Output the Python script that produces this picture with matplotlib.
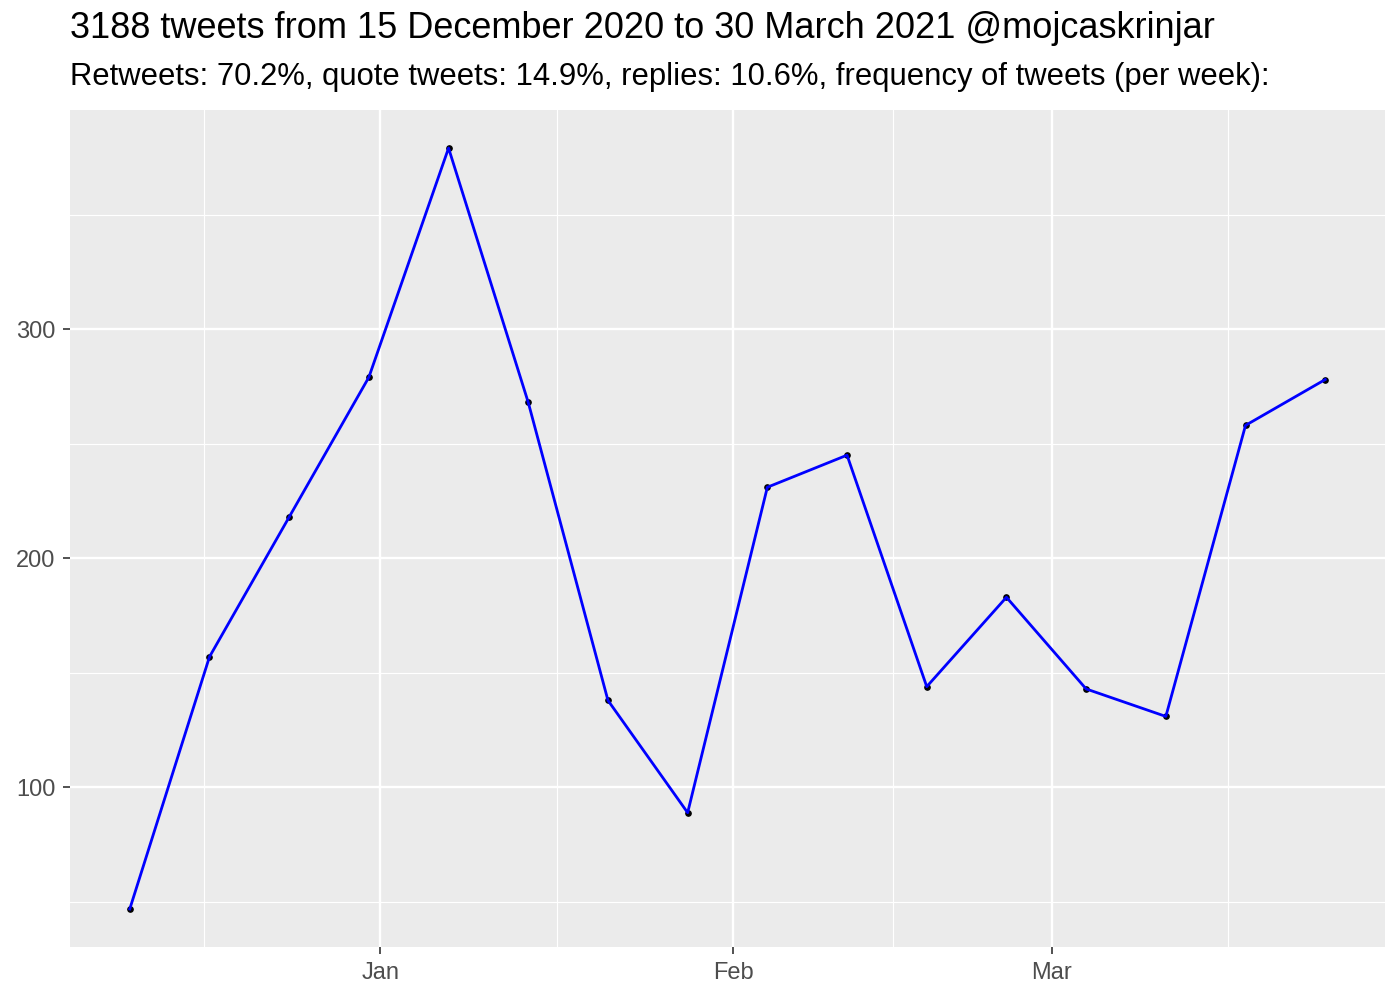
import matplotlib
matplotlib.use("Agg")
import matplotlib.pyplot as plt
import matplotlib.dates as mdates
import numpy as np

weeks = ["2020-12-10", "2020-12-17", "2020-12-24", "2020-12-31",
         "2021-01-07", "2021-01-14", "2021-01-21", "2021-01-28",
         "2021-02-04", "2021-02-11", "2021-02-18", "2021-02-25",
         "2021-03-04", "2021-03-11", "2021-03-18", "2021-03-25"]
counts = [47, 157, 218, 279, 379, 268, 138, 89, 231, 245, 144, 183, 143, 131, 258, 278]
y_ticks = [100, 200, 300]
y_minor = [50, 150, 250, 350]
x_major = ["2021-01-01", "2021-02-01", "2021-03-01"]
x_labels = ["Jan", "Feb", "Mar"]
x_minor = ["2020-12-16T12:00", "2021-01-16T12:00", "2021-02-15", "2021-03-16T12:00"]

title = "3188 tweets from 15 December 2020 to 30 March 2021 @mojcaskrinjar"
subtitle = "Retweets: 70.2%, quote tweets: 14.9%, replies: 10.6%, frequency of tweets (per week):"

plt.rcParams['font.family'] = ['Liberation Sans', 'DejaVu Sans']

dates = [np.datetime64(d) for d in weeks]
xd = mdates.date2num(dates)

fig = plt.figure(figsize=(14, 10), dpi=100)
ax = fig.add_axes([70/1400, 1 - 947/1000, (1385-70)/1400, (947-110)/1000])
ax.set_facecolor('#EBEBEB')

span = xd[-1] - xd[0]
ax.set_xlim(xd[0] - 0.05*span, xd[-1] + 0.05*span)
yr = max(counts) - min(counts)
ax.set_ylim(min(counts) - 0.05*yr, max(counts) + 0.05*yr)

ax.set_yticks(y_ticks)
ax.set_yticks(y_minor, minor=True)
xm = mdates.date2num([np.datetime64(d) for d in x_major])
xn = mdates.date2num([np.datetime64(d) for d in x_minor])
ax.set_xticks(xm)
ax.set_xticklabels(x_labels)
ax.set_xticks(xn, minor=True)

ax.grid(which='major', color='white', linewidth=1.7)
ax.grid(which='minor', color='white', linewidth=0.85)
ax.set_axisbelow(True)
for s in ax.spines.values():
    s.set_visible(False)

ax.tick_params(which='major', length=5, width=1.2, color='#333333', labelcolor='#4D4D4D',
               labelsize=17, pad=5.5)
ax.tick_params(which='minor', length=0)

ax.plot(xd, counts, 'o', color='black', markersize=3.8, zorder=3)
ax.plot(xd, counts, '-', color='#0000FF', linewidth=2.0, zorder=4)

fig.text(70/1400, 1 - 38/1000, title, fontsize=26, color='black', va='baseline', ha='left')
fig.text(70/1400, 1 - 85/1000, subtitle, fontsize=22.3, color='black', va='baseline', ha='left')

fig.savefig('out.png', dpi=100, facecolor='white')
